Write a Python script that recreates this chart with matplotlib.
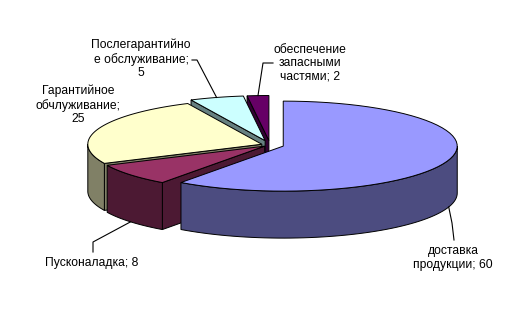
import numpy as np
import matplotlib
matplotlib.use('Agg')
import matplotlib.pyplot as plt
from matplotlib.patches import Polygon

# Данные диаграммы
labels = ['доставка\nпродукции; 60', 'Пусконаладка; 8', 'Гарантийное\nобчлуживание;\n25',
          'Послегарантийно\nе обслуживание;\n5', 'обеспечение\nзапасными\nчастями; 2']
values = [60, 8, 25, 5, 2]
top_colors = ['#9999FF', '#993366', '#FFFFCC', '#CCFFFF', '#660066']
side_colors = ['#4C4C80', '#4C1933', '#808066', '#668080', '#330033']
explode = [0.08, 0.04, 0.05, 0.1, 0.1]

# Геометрия псевдо-3D круга (в пикселях)
cx, cy = 270, 145
rx, ry = 174, 45
depth = 47

# Позиции подписей и изломы выносок
label_pos = [(453, 258), (92, 263), (78, 105), (141, 59), (310, 63)]
leader_pts = [[(452, 223), (454, 240)], [(93, 242), (93, 252)], None,
              [(197, 60), (192, 60)], [(263, 63), (273, 63)]]

plt.rcParams['font.family'] = ['Liberation Sans', 'DejaVu Sans']

fig = plt.figure(figsize=(5.30, 3.17), dpi=100)
ax = fig.add_axes([0, 0, 1, 1])
ax.set_xlim(0, 530)
ax.set_ylim(317, 0)
ax.axis('off')


def edge(x0, y0, th, z=0.0):
    t = np.radians(th)
    return x0 + rx * np.cos(t), y0 - ry * np.sin(t) + z


def arc(x0, y0, a, b, z=0.0, n=60):
    th = np.linspace(a, b, n)
    xs, ys = edge(x0, y0, th, z)
    return list(zip(xs, ys))


total = float(sum(values))
start = 90.0
lw = 0.7
faces = []  # радиальные грани: (глубина, полигон, цвет)
for i, v in enumerate(values):
    a1 = start
    a2 = start - 360.0 * v / total
    start = a2
    mid = np.radians((a1 + a2) / 2)
    x0 = cx + explode[i] * rx * np.cos(mid)
    y0 = cy - explode[i] * ry * np.sin(mid)

    # боковые радиальные грани (рисуются позже, по глубине)
    for a, visible in ((a1, np.cos(np.radians(a1)) < -1e-9), (a2, np.cos(np.radians(a2)) > 1e-9)):
        if visible:
            ex, ey = edge(x0, y0, a)
            face = [(x0, y0), (ex, ey), (ex, ey + depth), (x0, y0 + depth)]
            faces.append(((y0 + ey) / 2, face, side_colors[i]))

    # внешняя боковая поверхность (только передняя часть)
    for k in (-1, 0, 1):
        lo = max(a2, -180 + 360 * k)
        hi = min(a1, 360 * k)
        if hi > lo:
            pts = arc(x0, y0, lo, hi) + arc(x0, y0, hi, lo, depth)
            ax.add_patch(Polygon(pts, closed=True, fc=side_colors[i], ec='black', lw=lw, zorder=2))

    # верхняя грань
    top = [(x0, y0)] + arc(x0, y0, a1, a2)
    ax.add_patch(Polygon(top, closed=True, fc=top_colors[i], ec='black', lw=lw, zorder=3))

    # подписи и выноски
    lx, ly = label_pos[i]
    ax.text(lx, ly, labels[i], ha='center', va='center', fontsize=8.7,
            linespacing=1.15, color='black', zorder=5)
    if leader_pts[i] is not None:
        ax_, ay_ = edge(x0, y0, np.degrees(mid))
        if np.sin(mid) < 0:
            ay_ += depth
        xs = [ax_] + [p[0] for p in leader_pts[i]]
        ys = [ay_] + [p[1] for p in leader_pts[i]]
        ax.plot(xs, ys, color='black', lw=0.8, zorder=4)

# дальние грани раньше ближних
for j, (d, face, col) in enumerate(sorted(faces, key=lambda f: f[0])):
    ax.add_patch(Polygon(face, closed=True, fc=col, ec='black', lw=lw, zorder=1 + j * 0.01))

fig.savefig('out.png', dpi=100, facecolor='white')
